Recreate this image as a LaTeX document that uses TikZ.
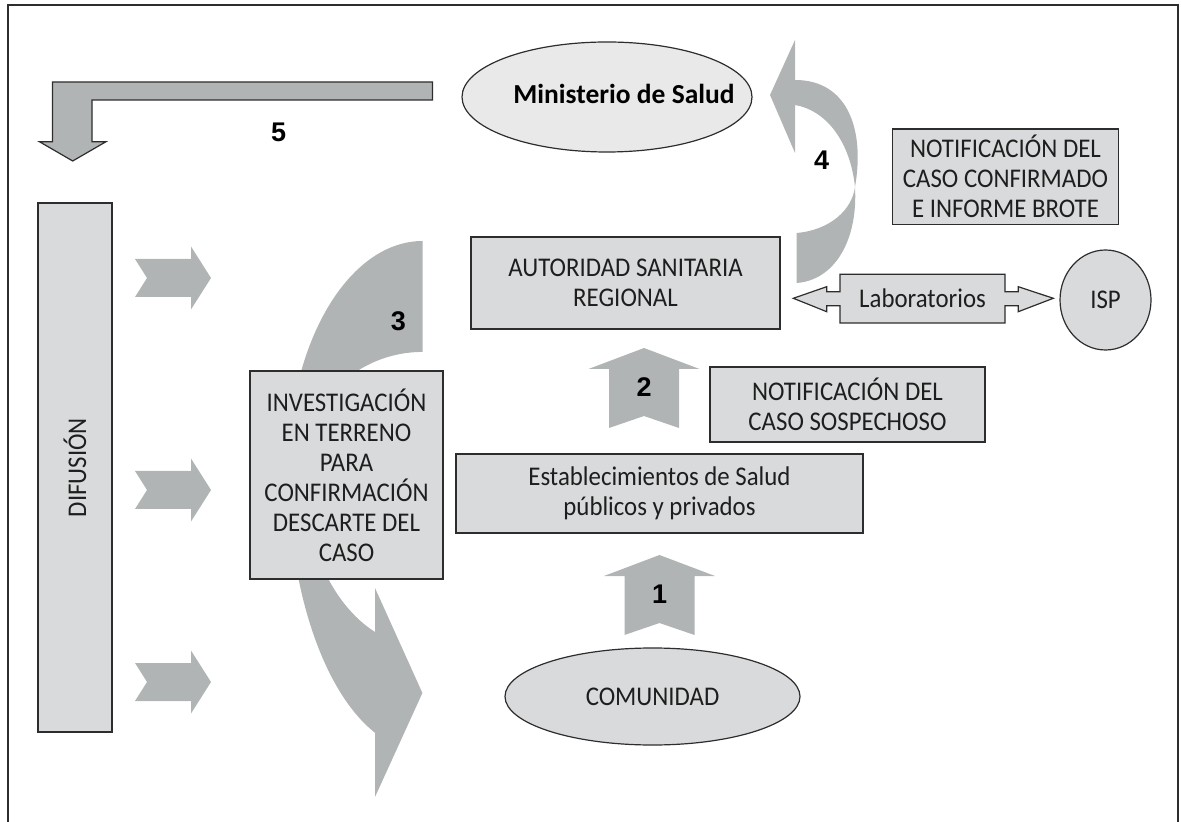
\documentclass[tikz,border=0pt]{standalone}
\usepackage{fontspec}
\setmainfont{Carlito}[FakeStretch=0.92]
\newfontfamily\titfont{Carlito}
\newfontfamily\numfont{Liberation Sans}
\usetikzlibrary{shapes.geometric}

\definecolor{gflecha}{RGB}{177,180,180}
\definecolor{gcaja}{RGB}{217,218,219}
\definecolor{gelipse}{RGB}{233,233,233}
\definecolor{borde}{RGB}{45,45,45}
\definecolor{texto}{RGB}{30,30,30}

\tikzset{
  caja/.style={draw=borde, line width=0.6pt, fill=gcaja, align=center, text=texto,
    inner sep=0pt, font=\fontsize{13.5}{15}\selectfont},
  elipse/.style={ellipse, draw=borde, line width=0.6pt, fill=gcaja, inner sep=0pt,
    text=texto, font=\fontsize{13.5}{15}\selectfont},
  flecha/.style={fill=gflecha, draw=none},
  num/.style={font=\numfont\bfseries\fontsize{13.5}{14}\selectfont, text=black},
}

% flecha hacia arriba (punta en #1,#2)
\newcommand{\flechaarriba}[2]{%
  \fill[flecha] (#1,#2) -- ++(55.5,21) -- ++(-20.5,0) -- ++(0,59) -- ++(-35,-12)
    -- ++(-35,12) -- ++(0,-59) -- ++(-20.5,0) -- cycle;}

\begin{document}
\begin{tikzpicture}[x=0.5pt, y=-0.5pt]

  \useasboundingbox (0,0) rectangle (1181,822);
  \draw[borde, line width=0.6pt] (8,822) -- (8,5) -- (1178,5) -- (1178,822);

  % Flecha 3 (curva, detras de la caja)
  \fill[flecha] (422.7,241)
    arc[start angle=270, end angle=180, x radius=134.7, y radius=229]
    arc[start angle=180, end angle=110.7, x radius=134.7, y radius=281]
    -- (375,797) -- (422.4,693) -- (375,588) -- (375,632)
    arc[start angle=113.4, end angle=180, x radius=120, y radius=176.6]
    arc[start angle=180, end angle=270, x radius=120, y radius=118]
    -- cycle;

  % Flecha 4 (curva hacia el ministerio)
  \fill[flecha] (795,40) -- (770,95) -- (795,153) -- (795,105)
    .. controls (825,110) and (850,140) .. (855,187)
    .. controls (852,210) and (830,230) .. (796.7,233)
    -- (796.7,283)
    .. controls (835,280) and (858,240) .. (855,187)
    .. controls (865,130) and (848,80) .. (795,80) -- cycle;

  % Flecha 5
  \filldraw[fill=gflecha, draw=borde, line width=0.6pt]
    (432.5,82) -- (52.4,82) -- (52.4,141.7) -- (39.4,141.7) -- (72.7,161)
    -- (106,141.7) -- (92,141.7) -- (92,100) -- (432.5,100) -- cycle;

  % Flechas 1 y 2
  \flechaarriba{644}{348}
  \flechaarriba{659.5}{555}

  % Flechas de difusion
  \foreach \y in {278,490,682}
    \fill[flecha] (135,\y-19) -- (191,\y-19) -- (191,\y-31.5) -- (211,\y)
      -- (191,\y+31.5) -- (191,\y+19) -- (135,\y+19) -- (147,\y) -- cycle;

  % Laboratorios
  \filldraw[fill=gcaja, draw=borde, line width=0.6pt]
    (793.3,298.3) -- (826.7,286.7) -- (826.7,291.7) -- (840,291.7) -- (840,274.3)
    -- (1005,274.3) -- (1005,291.7) -- (1018.3,291.7) -- (1018.3,286.7)
    -- (1053.3,298.3) -- (1018.3,311.7) -- (1018.3,305.7) -- (1005,305.7)
    -- (1005,323) -- (840,323) -- (840,305.7) -- (826.7,305.7) -- (826.7,311.7)
    -- cycle;
  \node[text=texto, font=\fontsize{13.5}{15}\selectfont] (lab) at (922.5,298.6) {Laboratorios};

  % Cajas
  \node[elipse, fill=gelipse, minimum width=145pt, minimum height=55pt] (ministerio) at (607,97) {};
  \node[font=\titfont\bfseries\fontsize{13.75}{15}\selectfont, text=black] (mintxt) at (624,94) {Ministerio de Salud};

  \node[caja, minimum width=154.5pt, minimum height=46pt] (autoridad) at (625.5,283)
    {AUTORIDAD SANITARIA\\REGIONAL};
  \node[caja, minimum width=112.8pt, minimum height=47.6pt] (confirmado) at (1005.5,176.7)
    {NOTIFICACIÓN DEL\\CASO CONFIRMADO\\E INFORME BROTE};
  \node[caja, minimum width=137.5pt, minimum height=37.5pt] (sospechoso) at (847.5,404.5)
    {NOTIFICACIÓN DEL\\CASO SOSPECHOSO};
  \node[caja, minimum width=203.5pt, minimum height=39.5pt] (establec) at (659.5,493.5)
    {Establecimientos de Salud\\públicos y privados};
  \node[caja, minimum width=96.5pt, minimum height=104pt] (investig) at (346.5,475)
    {INVESTIGACIÓN\\EN TERRENO\\PARA\\CONFIRMACIÓN\\DESCARTE DEL\\CASO};
  \node[caja, rotate=90, minimum width=264.5pt, minimum height=37pt] (difusion) at (75,467.5) {DIFUSIÓN};
  \node[elipse, minimum width=147.5pt, minimum height=48.5pt] (comunidad) at (652.5,696.5) {COMUNIDAD};
  \node[elipse, minimum width=45.5pt, minimum height=50pt] (isp) at (1105.5,300) {ISP};

  % Numeros
  \node[num] (n1) at (659.5,594) {1};
  \node[num] (n2) at (644,386.7) {2};
  \node[num] (n3) at (398.3,321.4) {3};
  \node[num] (n4) at (821.7,160) {4};
  \node[num] (n5) at (278.6,132) {5};

\end{tikzpicture}
\end{document}
